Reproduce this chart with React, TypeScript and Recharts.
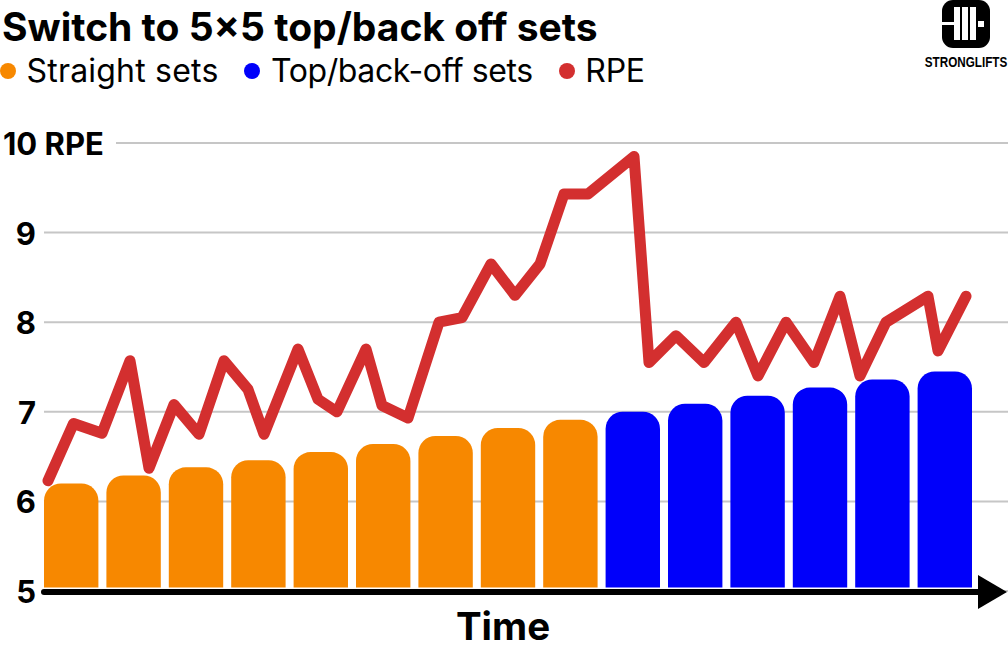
import React from "react";
import { ComposedChart, Bar, Line, XAxis, YAxis, CartesianGrid, ReferenceLine } from "recharts";

const periods = ["1","2","3","4","5","6","7","8","9","10","11","12","13","14","15"];
const straightSets = [6.2,6.29,6.38,6.46,6.55,6.64,6.73,6.82,6.91,null,null,null,null,null,null];
const topBackOffSets = [null,null,null,null,null,null,null,null,null,7.0,7.09,7.18,7.27,7.36,7.45];
const rpeTime = [48,73.5,102,130,149,174,199,224,248,264,298,318,337,366,382,408,439,462,491,515,540,564,588,634,649,676,704,736,758,786,814,840,860,886,928,938,966];
const rpeValues = [6.23,6.87,6.76,7.57,6.37,7.08,6.75,7.57,7.25,6.75,7.7,7.14,7.0,7.7,7.07,6.93,8.0,8.05,8.65,8.3,8.65,9.43,9.43,9.85,7.55,7.85,7.55,8.0,7.4,8.0,7.55,8.29,7.4,8.0,8.29,7.68,8.29];
const yTicks = [5,6,7,8,9,10];

const ORANGE = "#F78800";
const BLUE = "#0000FA";
const RED = "#D32F2F";
const FONT = "Inter, 'Noto Sans', sans-serif";

const legendItems = [
  { label: "Straight sets", color: ORANGE, spacing: 0.2 },
  { label: "Top/back-off sets", color: BLUE, spacing: -0.4 },
  { label: "RPE", color: RED, spacing: -0.3 },
];

const barData = periods.map((p, i) => ({ period: p, straight: straightSets[i], topBack: topBackOffSets[i] }));
const rpeData = rpeTime.map((t, i) => ({ time: t, rpe: rpeValues[i] }));

const gridLine = (props: any) => {
  const isTop = props.y1 <= props.y + 0.5;
  return (
    <line
      key={props.key ?? props.index}
      x1={isTop ? 116 : 44}
      x2={props.x2}
      y1={props.y1}
      y2={props.y2}
      stroke="#C6C6C6"
      strokeWidth={2}
    />
  );
};

const YTick = (props: any) => {
  const v = props.payload.value;
  const isTop = v === 10;
  return (
    <text
      x={isTop ? 3 : 36}
      y={props.y + 12}
      textAnchor={isTop ? "start" : "end"}
      fontFamily={FONT}
      fontWeight={700}
      fontSize={31}
      fill="#000"
    >
      {isTop ? "10 RPE" : v}
    </text>
  );
};

const AxisArrow = (props: any) => {
  const y = props.y1 + 1;
  return (
    <g>
      <line x1={44} x2={980} y1={y - 3.5} y2={y - 3.5} stroke="#fff" strokeWidth={2} />
      <line x1={44} x2={985} y1={y} y2={y} stroke="#000" strokeWidth={6} strokeLinecap="round" />
      <path d={`M978 ${y - 17}L1007 ${y}L978 ${y + 17}Z`} fill="#000" />
    </g>
  );
};

const Logo = () => (
  <svg width={84} height={70} viewBox="0 0 84 70" style={{ position: "absolute", left: 924, top: 0 }}>
    <rect x={18} width={48} height={48} rx={11} fill="#000" />
    <rect x={18} y={22} width={12} height={3} fill="#fff" />
    <rect x={30} y={7} width={6} height={33} fill="#fff" />
    <rect x={38} y={7} width={6} height={33} fill="#fff" />
    <rect x={46} y={7} width={6} height={33} fill="#fff" />
    <rect x={54} y={21} width={6} height={6} fill="#fff" />
    <g transform="translate(42 67) scale(0.78 1)">
      <text x={0} y={0} textAnchor="middle" fontFamily="'Liberation Sans', sans-serif" fontWeight={700} fontSize={15} fill="#000">
        STRONGLIFTS
      </text>
    </g>
  </svg>
);

export default function App() {
  return (
    <div style={{ position: "absolute", left: 0, top: 0, width: 1008, height: 648, background: "#fff", overflow: "hidden" }}>
      <ComposedChart
        width={1008}
        height={648}
        data={barData}
        margin={{ top: 143, right: 0, bottom: 0, left: 0 }}
        barGap={-54.4}
      >
        <CartesianGrid vertical={false} horizontal={gridLine} xAxisId="bars" yAxisId="rpe" />
        <XAxis
          xAxisId="bars"
          dataKey="period"
          type="category"
          padding={{ left: 0, right: 32 }}
          tick={false}
          tickLine={false}
          axisLine={false}
          height={57}
          label={{ value: "Time", position: "insideBottom", offset: 8, dx: -21, fontFamily: FONT, fontWeight: 700, fontSize: 38.5, fill: "#000" }}
        />
        <XAxis xAxisId="time" dataKey="time" type="number" domain={[40, 1008]} hide />
        <YAxis yAxisId="rpe" domain={[5, 10]} ticks={yTicks} width={40} axisLine={false} tickLine={false} tick={YTick} interval={0} />
        <Bar xAxisId="bars" yAxisId="rpe" dataKey="straight" name="Straight sets" fill={ORANGE} barSize={54.4} radius={[17, 17, 0, 0]} isAnimationActive={false} />
        <Bar xAxisId="bars" yAxisId="rpe" dataKey="topBack" name="Top/back-off sets" fill={BLUE} barSize={54.4} radius={[17, 17, 0, 0]} isAnimationActive={false} />
        <Line
          xAxisId="time"
          yAxisId="rpe"
          data={rpeData}
          dataKey="rpe"
          name="RPE"
          type="linear"
          stroke={RED}
          strokeWidth={11}
          strokeLinejoin="round"
          strokeLinecap="round"
          dot={false}
          activeDot={false}
          isAnimationActive={false}
        />
        <ReferenceLine xAxisId="bars" yAxisId="rpe" y={5} shape={AxisArrow} ifOverflow="visible" />
      </ComposedChart>
      <div style={{ position: "absolute", left: 2, top: 6, fontFamily: FONT, fontWeight: 700, fontSize: 39, lineHeight: "42px", color: "#000", whiteSpace: "nowrap" }}>
        Switch to 5×5 top/back off sets
      </div>
      <div style={{ position: "absolute", left: 0, top: 52, display: "flex", fontFamily: FONT, fontSize: 32, lineHeight: "38px", color: "#000", whiteSpace: "nowrap" }}>
        {legendItems.map((it) => (
          <div key={it.label} style={{ display: "flex", alignItems: "center", marginRight: 26, letterSpacing: it.spacing }}>
            <span style={{ width: 16, height: 16, borderRadius: 8, background: it.color, marginRight: 10.5, display: "inline-block" }} />
            {it.label}
          </div>
        ))}
      </div>
      <Logo />
    </div>
  );
}
